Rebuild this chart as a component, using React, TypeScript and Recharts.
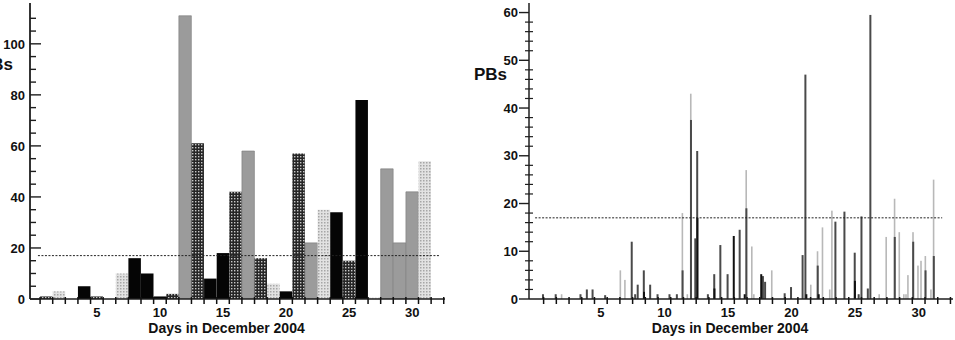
import React from 'react';
import { BarChart, Bar, XAxis, YAxis, Cell, ReferenceLine, Label } from 'recharts';

// ---------- Left panel: daily PB counts ----------
const DAYS = [1, 2, 3, 4, 5, 6, 7, 8, 9, 10, 11, 12, 13, 14, 15, 16, 17, 18, 19, 20, 21, 22, 23, 24, 25, 26, 27, 28, 29, 30, 31];
const DAILY_PBS = [1, 3, 0, 5, 1, 0, 10, 16, 10, 1, 2, 111, 61, 8, 18, 42, 58, 16, 6, 3, 57, 22, 35, 34, 15, 78, 0.5, 51, 22, 42, 54];
const DAILY_KIND = ['dark', 'light', 'none', 'black', 'dark', 'none', 'light', 'black', 'black', 'black', 'dark', 'gray', 'dark', 'black', 'black', 'dark', 'gray', 'dark', 'light', 'black', 'dark', 'gray', 'light', 'black', 'dark', 'black', 'light', 'gray', 'gray', 'gray', 'light'];

// ---------- Right panel: individual events (time in days, PBs) ----------
const LIGHT_T = [1.93, 6.55, 6.91, 11.43, 11.82, 12.09, 16.45, 16.89, 17.05, 18.46, 21.53, 22.06, 22.45, 23.02, 23.19, 26.91, 27.46, 28.12, 28.49, 28.85, 29.02, 29.17, 29.57, 29.96, 30.2, 30.54, 30.98, 31.19];
const LIGHT_V = [1, 6, 4, 18, 1, 43, 27, 11, 1, 6, 3, 10, 15, 2, 18.5, 1, 13, 21, 14, 1, 1, 5, 14, 7, 8, 9, 2, 25];
const MID_T = [0.45, 1.45, 3.4, 3.9, 4.35, 5.34, 7.43, 7.7, 7.9, 8.38, 8.88, 9.46, 10.4, 10.98, 11.43, 12.09, 12.43, 12.58, 13.42, 13.92, 14.4, 14.97, 15.92, 16.45, 17.75, 17.92, 19.46, 19.96, 20.87, 21.09, 22.06, 23.45, 24.16, 24.97, 25.28, 25.5, 26.0, 26.2, 28.12, 29.57, 30.54, 31.19];
const MID_V = [1, 1, 1, 2, 2, 0.8, 12, 1, 3, 6, 3, 1, 1, 1, 6, 37.5, 12.7, 31, 1, 5.2, 11.3, 5.2, 14.5, 19, 4.8, 3.6, 1.2, 2.5, 9.2, 47, 7, 16.2, 18.3, 9.7, 1, 17.3, 2.2, 59.5, 13, 12, 6, 9];
const BLACK_T = [8.38, 12.58, 13.92, 15.44, 16.3, 17.6, 21.15, 22.12, 24.97];
const BLACK_V = [1.5, 17, 2.2, 13.2, 1, 5.2, 1, 1, 3.8];

const THRESHOLD = 17;
const X_LABELS = [5, 10, 15, 20, 25, 30];
const X_MINOR = Array.from({ length: 33 }, (_, i) => i + 0.5);
const LEFT_Y_TICKS = Array.from({ length: 23 }, (_, i) => i * 5);
const RIGHT_Y_TICKS = Array.from({ length: 31 }, (_, i) => i * 2);

const FONT = '"Liberation Sans", Arial, sans-serif';
const AXIS = '#1e1e1e';

const leftData = DAYS.map((d, i) => ({ day: d, pbs: DAILY_PBS[i], kind: DAILY_KIND[i] }));

const allT = Array.from(new Set([...LIGHT_T, ...MID_T, ...BLACK_T])).sort((a, b) => a - b);
const pick = (ts: number[], vs: number[], t: number) => {
  const i = ts.indexOf(t);
  return i >= 0 ? vs[i] : null;
};
const rightData = allT.map((t) => ({
  t,
  light: pick(LIGHT_T, LIGHT_V, t),
  mid: pick(MID_T, MID_V, t),
  black: pick(BLACK_T, BLACK_V, t),
}));

const xTicks = [...X_MINOR, ...X_LABELS].sort((a, b) => a - b);

const FILLS: Record<string, string> = {
  black: '#050505',
  gray: '#9b9b9b',
  dark: 'url(#darkCheck)',
  light: 'url(#lightDot)',
  none: 'transparent',
};

const XTick = (props: any) => {
  const { x, y, payload } = props;
  const axisY = y - 8;
  const v = payload.value;
  const isLabel = X_LABELS.indexOf(v) >= 0;
  return (
    <g>
      {isLabel ? (
        <text x={x} y={axisY + 17.5} textAnchor="middle" fontFamily={FONT} fontWeight="bold" fontSize={13} fill="#111">
          {v}
        </text>
      ) : (
        <line x1={x} x2={x} y1={axisY - 2} y2={axisY + 5} stroke="#111" strokeWidth={1.5} />
      )}
    </g>
  );
};

const LeftYTick = (props: any) => {
  const { x, y, payload } = props;
  const axisX = x + 5;
  const v = payload.value;
  const major = v % 20 === 0;
  return (
    <g>
      <line x1={axisX} x2={axisX + (major ? 11 : 6)} y1={y} y2={y} stroke={AXIS} strokeWidth={1.4} />
      {major && (
        <text x={x} y={y} dy="0.36em" textAnchor="end" fontFamily={FONT} fontWeight="bold" fontSize={13} fill="#111">
          {v}
        </text>
      )}
    </g>
  );
};

const RightYTick = (props: any) => {
  const { x, y, payload } = props;
  const axisX = x + 11;
  const v = payload.value;
  const major = v % 10 === 0;
  return (
    <g>
      {major ? (
        <line x1={axisX - 10} x2={axisX} y1={y} y2={y} stroke={AXIS} strokeWidth={1.4} />
      ) : (
        <line x1={axisX - 4} x2={axisX + 4} y1={y} y2={y} stroke={AXIS} strokeWidth={1.2} />
      )}
      {major && (
        <text x={x} y={y} dy="0.36em" textAnchor="end" fontFamily={FONT} fontWeight="bold" fontSize={13} fill="#111">
          {v}
        </text>
      )}
    </g>
  );
};

const thinBar = (w: number) => (props: any) => {
  const { x, y, width, height, fill } = props;
  if (!(height > 0) || x == null || isNaN(x)) return <g />;
  const cx = x + (width || 0) / 2;
  return <rect x={cx - w / 2} y={y} width={w} height={height} fill={fill} />;
};

const titleLabel = (
  <Label
    value="Days in December 2004"
    position="insideBottom"
    offset={7}
    dx={-11}
    style={{ fontFamily: FONT, fontWeight: 'bold', fontSize: 14, fill: '#111' }}
  />
);

export default function App() {
  return (
    <div style={{ position: 'absolute', left: 0, top: 0, width: 955, height: 340, background: '#fff', overflow: 'hidden' }}>
      <div style={{ position: 'absolute', left: 0, top: 0 }}>
        <BarChart width={470} height={340} data={leftData} margin={{ top: 3, right: 25, bottom: 0, left: 0 }} barCategoryGap={0}>
          <defs>
            <pattern id="darkCheck" width={3} height={3} patternUnits="userSpaceOnUse">
              <rect width={3} height={3} fill="#262626" />
              <rect width={1.4} height={1.4} fill="#c8c8c8" />
            </pattern>
            <pattern id="lightDot" width={3} height={3} patternUnits="userSpaceOnUse">
              <rect width={3} height={3} fill="#e2e2e2" />
              <rect width={1.5} height={1.5} fill="#a6a6a6" />
            </pattern>
          </defs>
          <Bar dataKey="pbs" barSize={12.5} isAnimationActive={false}>
            {leftData.map((d, i) => (
              <Cell key={i} fill={FILLS[d.kind]} stroke={d.kind === 'gray' ? '#7a7a7a' : 'none'} strokeWidth={0.6} />
            ))}
          </Bar>
          <ReferenceLine
            segment={[{ x: 0.33, y: THRESHOLD }, { x: 32.2, y: THRESHOLD }]}
            stroke="#222"
            strokeWidth={1}
            strokeDasharray="2 1.5"
          />
          <XAxis
            dataKey="day"
            type="number"
            domain={[-0.3, 32.6]}
            allowDataOverflow
            ticks={xTicks}
            interval={0}
            tick={<XTick />}
            tickLine={false}
            tickSize={0}
            tickMargin={8}
            height={41}
            axisLine={{ stroke: AXIS, strokeWidth: 1.6 }}
          >
            {titleLabel}
          </XAxis>
          <YAxis
            type="number"
            domain={[0, 116]}
            allowDataOverflow
            ticks={LEFT_Y_TICKS.filter((t) => t <= 110)}
            interval={0}
            tick={<LeftYTick />}
            tickLine={false}
            tickSize={0}
            tickMargin={5}
            width={30}
            axisLine={{ stroke: AXIS, strokeWidth: 1.8 }}
          />
        </BarChart>
      </div>

      <div style={{ position: 'absolute', left: 475, top: 0 }}>
        <BarChart width={480} height={340} data={rightData} margin={{ top: 3, right: 2, bottom: 0, left: 0 }}>
          <Bar dataKey="light" fill="#b8b8b8" shape={thinBar(1.6)} isAnimationActive={false} />
          <Bar dataKey="mid" fill="#4a4a4a" shape={thinBar(2)} isAnimationActive={false} />
          <Bar dataKey="black" fill="#111111" shape={thinBar(2)} isAnimationActive={false} />
          <ReferenceLine
            segment={[{ x: -0.17, y: THRESHOLD }, { x: 31.85, y: THRESHOLD }]}
            stroke="#222"
            strokeWidth={1}
            strokeDasharray="2 1.5"
          />
          <XAxis
            dataKey="t"
            type="number"
            domain={[-0.65, 32.7]}
            allowDataOverflow
            ticks={xTicks}
            interval={0}
            tick={<XTick />}
            tickLine={false}
            tickSize={0}
            tickMargin={8}
            height={41}
            axisLine={{ stroke: AXIS, strokeWidth: 1.6 }}
          >
            {titleLabel}
          </XAxis>
          <YAxis
            type="number"
            domain={[0, 62]}
            allowDataOverflow
            ticks={RIGHT_Y_TICKS}
            interval={0}
            tick={<RightYTick />}
            tickLine={false}
            tickSize={0}
            tickMargin={11}
            width={54}
            axisLine={{ stroke: AXIS, strokeWidth: 1.5 }}
          />
        </BarChart>
      </div>

      <div style={{ position: 'absolute', left: -47, top: 54, width: 60, textAlign: 'right', fontFamily: FONT, fontWeight: 'bold', fontSize: 17, lineHeight: '22px', color: '#111' }}>
        PBs
      </div>
      <div style={{ position: 'absolute', left: 474, top: 64, fontFamily: FONT, fontWeight: 'bold', fontSize: 17, lineHeight: '22px', color: '#111' }}>
        PBs
      </div>
    </div>
  );
}
